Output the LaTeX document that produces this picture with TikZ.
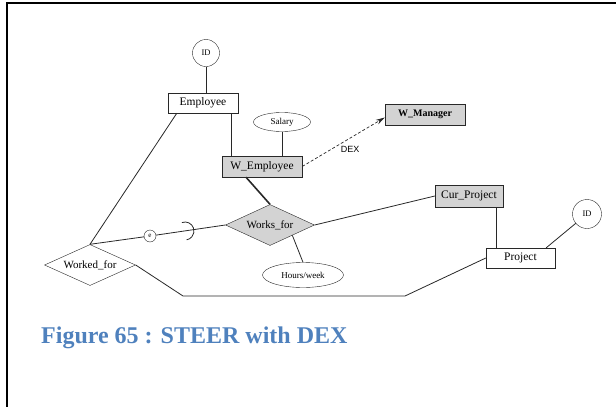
\documentclass[tikz,border=0pt]{standalone}
\usepackage{fontspec}
\setmainfont{Liberation Serif}
\setsansfont{Liberation Sans}
\usepackage{xcolor}
\usepackage{tikz}
\usetikzlibrary{shapes.geometric, arrows.meta, positioning, calc}
\definecolor{eerGray}{RGB}{211,211,211}
\definecolor{eerLine}{RGB}{40,40,40}
\definecolor{capBlue}{RGB}{79,129,189}

\begin{document}
\begin{tikzpicture}[
    x=1pt, y=-1pt,
    entbox/.style={draw=eerLine, fill=white, rectangle, align=center, inner sep=2pt, font=\fontsize{11.5}{13}\selectfont, minimum width=70pt, minimum height=20pt},
    wentbox/.style={entbox, fill=eerGray, minimum width=80pt, minimum height=21pt},
    relbox/.style={draw=eerLine, fill=white, diamond, aspect=2.2, inner sep=1pt, font=\fontsize{11}{13}\selectfont, minimum width=89pt, minimum height=41pt},
    attrell/.style={draw=eerLine, fill=white, ellipse, inner sep=1pt, font=\fontsize{9}{10}\selectfont},
    keycirc/.style={draw=eerLine, fill=white, circle, inner sep=0pt, minimum size=27pt, font=\fontsize{8.5}{9}\selectfont},
    link/.style={draw=eerLine, line width=0.8pt},
    arrow/.style={-{Stealth[length=9pt,width=5pt]}, densely dashed, draw=eerLine, line width=0.7pt}
]
\useasboundingbox (0,0) rectangle (616,407);

% Page frame
\draw [line width=2pt] (6.7,407) -- (6.7,3.3) -- (616,3.3);

% Entities
\node (employee) [entbox] at (203,103) {Employee};
\node (wEmp) [wentbox] at (262,166.5) {W\_Employee};
\node (wMan) [wentbox, font=\bfseries\fontsize{10}{12}\selectfont] at (425,114.5) {W\_Manager};
\node (curProj) [entbox, fill=eerGray, minimum width=68pt, minimum height=22pt] at (469,196) {Cur\_Project};
\node (project) [entbox, minimum width=69pt] at (520.5,258) {Project};

% Attributes
\node (idEmp) [keycirc] at (206,53) {ID};
\node (idProj) [keycirc, minimum size=29pt] at (587,214) {ID};
\node (salary) [attrell, minimum width=57pt, minimum height=19pt] at (282,122) {Salary};
\node (hours) [attrell, minimum width=81pt, minimum height=25pt] at (303,275) {Hours/week};

% Relationships
\node (worksFor) [relbox, fill=eerGray] at (270,225) {Works\_for};
\node (workedFor) [relbox, minimum width=91pt] at (90,265) {Worked\_for};

% Constraint marks and bends
\node (eMark) [circle, draw=eerLine, fill=white, inner sep=0pt, minimum size=12pt, font=\fontsize{7}{8}\selectfont] at (150,236) {e};
\coordinate (subMark) at (185,231);
\coordinate (bendL) at (183,296);
\coordinate (bendR) at (405,296);

% Connections
\draw [link] (idEmp.south) -- (idEmp.south |- employee.north);
\draw [link] ([xshift=-7pt]employee.south east) -- ([xshift=-7pt]employee.south east |- wEmp.north);
\draw [link] (salary.south) -- (salary.south |- wEmp.north);
\draw [arrow] (wEmp.east) -- node [pos=0.58, below=7pt, inner sep=1pt, font=\sffamily\fontsize{9}{10}\selectfont] {DEX} ([yshift=-3pt]wMan.west);
\draw [link, line width=1.6pt] ([xshift=-16pt]wEmp.south) -- (worksFor.north);
\draw [link] (worksFor.east) -- (curProj.west);
\draw [link] ([xshift=-7pt]curProj.south east) -- ([xshift=-7pt]curProj.south east |- project.north);
\draw [link] ([xshift=-9pt]project.north east) -- (idProj);
\draw [link] ([xshift=9pt]employee.south west) -- (workedFor.north);
\draw [link] (workedFor.north) -- (eMark);
\draw [link] (eMark) -- (worksFor.west);
\draw [link] ([shift={(-110:9)}]subMark) arc [start angle=-110, end angle=80, radius=9];
\draw [link] (worksFor.south east) -- (hours.north);
\draw [link] (workedFor.east) -- (bendL) -- (bendR) -- (project.west);

% Caption
\node (caption) [anchor=base west, inner sep=0pt, text=capBlue, font=\bfseries\fontsize{24}{28}\selectfont] at (41,343) {Figure 65 : STEER with DEX};

\end{tikzpicture}
\end{document}
